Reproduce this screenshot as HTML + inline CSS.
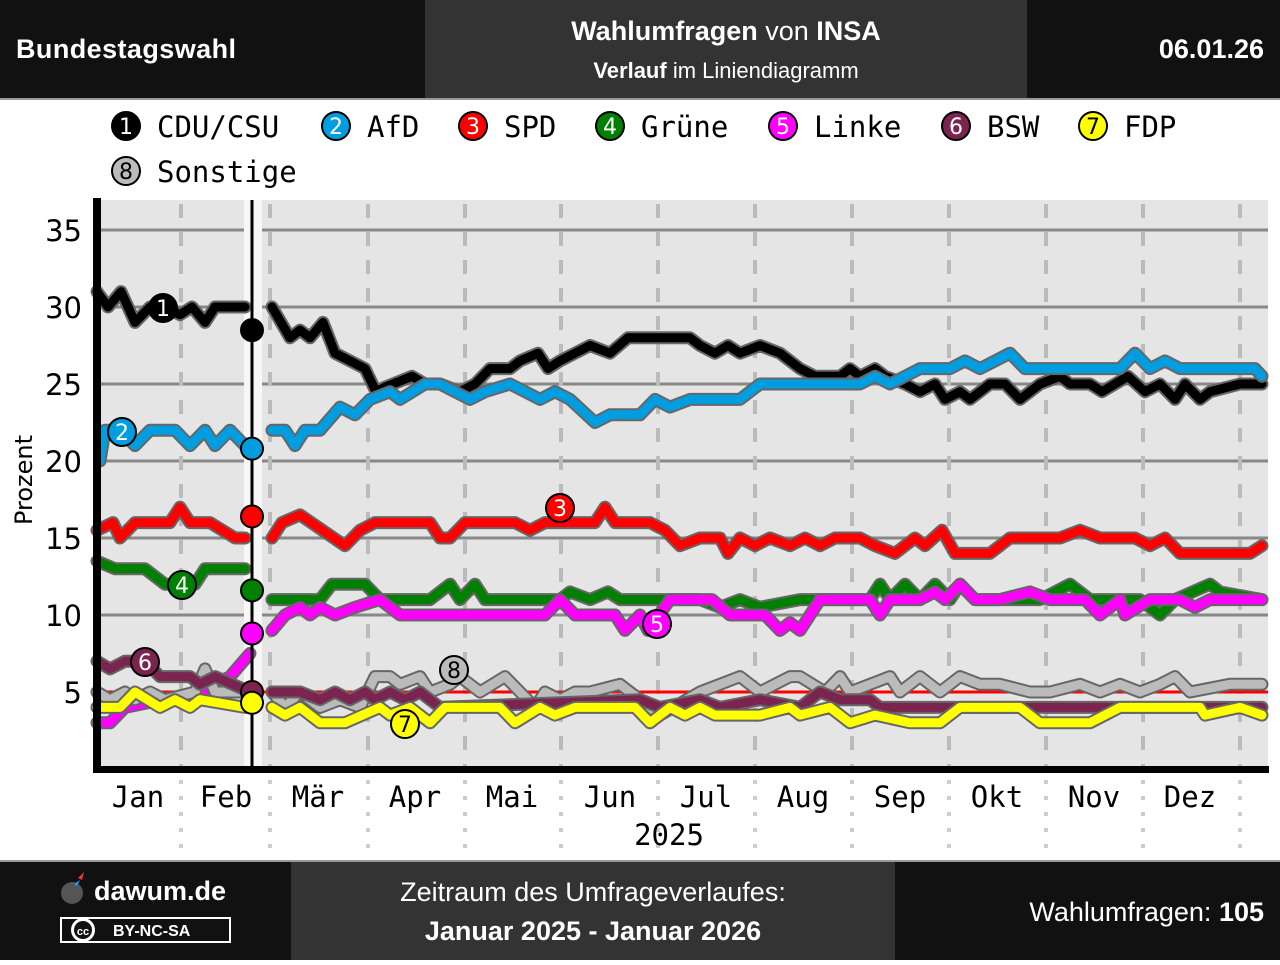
<!DOCTYPE html>
<html><head><meta charset="utf-8"><style>
body{margin:0;width:1280px;height:960px;overflow:hidden;background:#fff;font-family:"Liberation Sans",sans-serif}
</style></head><body>
<svg width="1280" height="960" xmlns="http://www.w3.org/2000/svg" id="s">
<rect x="0" y="0" width="1280" height="98" fill="#111"/>
<rect x="425" y="0" width="602" height="98" fill="#333"/>
<rect x="0" y="98" width="1280" height="2" fill="#999"/>
<text x="16" y="58" fill="#fff" font-size="27" font-weight="bold" textLength="220">Bundestagswahl</text>
<text x="726" y="40" fill="#fff" font-size="27" text-anchor="middle"><tspan font-weight="bold">Wahlumfragen</tspan> von <tspan font-weight="bold">INSA</tspan></text>
<text x="726" y="78" fill="#fff" font-size="22" text-anchor="middle"><tspan font-weight="bold">Verlauf</tspan> im Liniendiagramm</text>
<text x="1264" y="58" fill="#fff" font-size="27" font-weight="bold" text-anchor="end">06.01.26</text>
<rect x="0" y="860" width="1280" height="2" fill="#999"/>
<rect x="0" y="862" width="1280" height="98" fill="#111"/>
<rect x="291" y="862" width="604" height="98" fill="#333"/>
<circle cx="72" cy="893" r="11" fill="#555"/>
<path d="M78 878 l6 -6 l-2 8 z" fill="#e33"/><path d="M74 884 l6 -4 l-3 6z" fill="#29f"/>
<text x="94" y="900" fill="#fff" font-size="27" font-weight="bold">dawum.de</text>
<rect x="60" y="917" width="171" height="26" fill="#fff"/><rect x="62" y="919" width="167" height="22" fill="#111"/>
<circle cx="83" cy="930" r="12" fill="#fff"/><circle cx="83" cy="930" r="9" fill="#111"/>
<text x="83" y="935" fill="#fff" font-size="11" font-weight="bold" text-anchor="middle">cc</text>
<text x="113" y="936" fill="#fff" font-size="16" font-weight="bold">BY-NC-SA</text>
<text x="593" y="901" fill="#fff" font-size="27" text-anchor="middle">Zeitraum des Umfrageverlaufes:</text>
<text x="593" y="940" fill="#fff" font-size="27" font-weight="bold" text-anchor="middle">Januar 2025 - Januar 2026</text>
<text x="1264" y="921" fill="#fff" font-size="27" text-anchor="end">Wahlumfragen: <tspan font-weight="bold">105</tspan></text>
<rect x="97" y="200" width="1171" height="570" fill="#e5e5e5"/>
<g id="grid"></g>
<rect x="244" y="200" width="18" height="570" fill="#f7f7f7"/>
<line x1="97" y1="692" x2="1268" y2="692" stroke="#f00" stroke-width="3"/>
<g id="ser"></g>
<line x1="252" y1="200" x2="252" y2="770" stroke="#000" stroke-width="3"/>
<g id="mk"></g>
<rect x="93" y="198" width="8" height="575" fill="#000"/>
<rect x="93" y="766" width="1176" height="7" fill="#000"/>
<g id="lab" font-family="'DejaVu Sans Mono',monospace" font-size="29"></g>
<text transform="translate(32,480) rotate(-90)" font-family="'DejaVu Sans',sans-serif" font-size="24" text-anchor="middle">Prozent</text>
</svg>
<script>
const NS="http://www.w3.org/2000/svg";
function el(p,t,a,txt){const e=document.createElementNS(NS,t);for(const k in a)e.setAttribute(k,a[k]);if(txt!==undefined)e.textContent=txt;document.getElementById(p).appendChild(e);return e;}
const Y=v=>230+(35-v)*15.4;
[35,30,25,20,15,10,5].forEach(v=>{el('grid','line',{x1:97,x2:1268,y1:Y(v),y2:Y(v),stroke:'#888','stroke-width':3});
el('lab','text',{x:82,y:Y(v)+11,'text-anchor':'end','font-family':"'DejaVu Sans',sans-serif"},v);});
[181,270,368,465,561,658,755,852,949,1046,1143,1240].forEach(x=>{el('grid','line',{x1:x,x2:x,y1:200,y2:770,stroke:'#bbb','stroke-width':4,'stroke-dasharray':'14 14','stroke-dashoffset':-4});
el('lab','line',{x1:x,x2:x,y1:780,y2:850,stroke:'#ccc','stroke-width':4,'stroke-dasharray':'4 12'});});
[["Jan",138],["Feb",226],["Mär",318],["Apr",415],["Mai",512],["Jun",610],["Jul",706],["Aug",803],["Sep",900],["Okt",997],["Nov",1094],["Dez",1190]].forEach(([t,x])=>el('lab','text',{x:x,y:807,'text-anchor':'middle'},t));
el('lab','text',{x:669,y:845,'text-anchor':'middle'},'2025');
const S={
cdu:['#000',[[97,31],[108,30],[121,31],[135,29],[150,30],[165,30],[180,29.5],[192,30],[205,29],[215,30],[245,30]],[[272,30],[290,28],[300,28.5],[310,28],[323,29],[335,27],[350,26.5],[365,26],[376,24.5],[385,24.8],[412,25.5],[425,25],[440,25],[460,24.5],[475,25],[490,26],[510,26],[520,26.5],[538,27],[548,26],[560,26.5],[590,27.5],[610,27],[628,28],[690,28],[700,27.5],[715,27],[728,27.5],[740,27],[760,27.5],[780,27],[800,26],[815,25.5],[840,25.5],[850,26],[860,25.5],[875,26],[885,25.5],[905,25],[920,24.5],[935,25],[945,24],[960,24.5],[970,24],[990,25],[1005,25],[1020,24],[1040,25],[1060,25.5],[1070,25],[1090,25],[1102,24.5],[1128,25.5],[1145,24.5],[1160,25],[1175,24],[1185,25],[1200,24],[1210,24.5],[1240,25],[1262,25]]],
afd:['#009ee0',[[100,20],[105,22],[120,22],[135,21],[150,22],[175,22],[190,21],[205,22],[215,21],[230,22],[245,21]],[[272,22],[285,22],[295,21],[305,22],[320,22],[340,23.5],[355,23],[370,24],[390,24.5],[400,24],[425,25],[440,25],[455,24.5],[470,24],[485,24.5],[510,25],[540,24],[555,24.5],[570,24],[595,22.5],[610,23],[640,23],[655,24],[670,23.5],[690,24],[740,24],[760,25],[860,25],[875,25.5],[890,25],[920,26],[950,26],[965,26.5],[980,26],[1010,27],[1025,26],[1070,26],[1120,26],[1135,27],[1150,26],[1165,26.5],[1180,26],[1255,26],[1262,25.5]]],
spd:['#f00',[[97,15.5],[113,16],[120,15],[135,16],[170,16],[180,17],[190,16],[210,16],[235,15],[245,15]],[[272,15],[282,16],[300,16.5],[345,14.5],[360,15.5],[375,16],[430,16],[440,15],[450,15],[465,16],[515,16],[530,15.5],[545,16],[595,16],[605,17],[615,16],[650,16],[665,15.5],[680,14.5],[700,15],[720,15],[728,14],[740,15],[755,14.5],[770,15],[790,14.5],[805,15],[820,14.5],[835,15],[860,15],[875,14.5],[895,14],[915,15],[925,14.5],[942,15.5],[955,14],[990,14],[1010,15],[1060,15],[1080,15.5],[1100,15],[1135,15],[1150,14.5],[1165,15],[1180,14],[1250,14],[1262,14.5]]],
gru:['#008000',[[97,13.5],[115,13],[145,13],[165,12],[195,12],[205,13],[245,13]],[[272,11],[320,11],[332,12],[365,12],[380,11],[430,11],[450,12],[460,11],[475,12],[485,11],[560,11],[570,11.5],[590,11],[608,11.5],[620,11],[700,11],[720,10.5],[740,11],[760,10.5],[800,11],[870,11],[880,12],[890,11],[905,12],[920,11],[935,12],[950,11],[960,12],[975,11],[1040,11],[1070,12],[1090,11],[1140,11],[1160,10],[1175,11],[1210,12],[1220,11.5],[1262,11]]],
lin:['#f0f',[[97,3],[110,3],[125,4],[200,5],[230,6],[250,7.5]],[[272,9],[285,10],[300,10.5],[310,10],[320,10.5],[335,10],[355,10.5],[380,11],[400,10],[545,10],[560,11],[575,10],[615,10],[625,9],[640,10],[648,9],[670,11],[712,11],[730,10],[765,10],[780,9],[790,9.5],[800,9],[820,11],[870,11],[880,10],[890,11],[920,11],[935,11.5],[945,11],[960,12],[975,11],[1000,11],[1030,11.5],[1050,11],[1085,11],[1100,10],[1120,11],[1125,10],[1150,11],[1180,11],[1195,10.5],[1210,11],[1262,11]]],
son:['#bbb',[[97,5],[110,4.5],[125,5],[135,4.5],[150,5],[165,4.5],[195,5],[205,6.5],[215,5],[245,5]],[[272,5],[285,4],[300,5],[320,4],[340,4.5],[360,4],[375,6],[390,6],[400,5.5],[420,6],[430,5],[450,5.5],[460,6],[480,5],[505,6],[520,5],[535,4],[545,5],[560,4.5],[575,5],[590,5],[620,5.5],[640,4.5],[660,3.5],[700,5],[740,6],[760,5],[790,6],[800,6],[825,5],[840,6],[850,5],[870,5.5],[890,6],[900,5],[920,6],[940,5],[960,6],[980,5.5],[1000,5.5],[1030,5],[1050,5],[1080,5.5],[1100,5],[1120,5.5],[1140,5],[1160,5.5],[1175,6],[1190,5],[1230,5.5],[1262,5.5]]],
bsw:['#7b2450',[[97,7],[110,6.5],[125,7],[145,7],[160,6],[190,6],[200,5.5],[215,6],[250,5]],[[272,5],[300,5],[320,4.5],[335,5],[350,4.5],[365,5],[375,4.5],[390,5],[405,4.5],[420,5],[440,4],[640,4.5],[660,4],[700,4.5],[720,4],[760,4.5],[800,4],[820,5],[840,4.5],[870,4.5],[880,4],[1262,4]]],
fdp:['#ff0',[[97,4],[120,4],[135,5],[160,4],[175,4.5],[190,4],[200,4.5],[245,4]],[[272,4],[285,3.5],[300,4],[320,3],[345,3],[380,4],[390,3.5],[410,4],[430,3],[445,4],[500,4],[515,3],[540,4],[555,3.5],[575,4],[635,4],[650,3],[670,4],[685,3.5],[700,4],[715,3.5],[760,3.5],[790,4],[800,3.5],[830,4],[850,3],[875,3.5],[910,3],[940,3],[960,4],[1020,4],[1040,3],[1090,3],[1120,4],[1200,4],[1205,3.5],[1240,4],[1262,3.5]]]};
for(const k in S){const [c,a,b]=S[k];[a,b].forEach(pts=>{const p=pts.map(q=>q[0]+','+Y(q[1]).toFixed(1)).join(' ');
el('ser','polyline',{points:p,fill:'none',stroke:'#666','stroke-width':13,'stroke-linejoin':'round','stroke-linecap':'round'});
el('ser','polyline',{points:p,fill:'none',stroke:c,'stroke-width':9,'stroke-linejoin':'round','stroke-linecap':'round'});});}
[['#000',28.5],['#009ee0',20.8],['#f00',16.4],['#008000',11.6],['#f0f',8.8],['#7b2450',5],['#ff0',4.3]].forEach(([c,v])=>el('mk','circle',{cx:252,cy:Y(v),r:11,fill:c,stroke:'#000','stroke-width':2}));
function badge(g,x,y,c,n,tc){el(g,'circle',{cx:x,cy:y,r:14,fill:c,stroke:'#000','stroke-width':2});
el(g,'text',{x:x,y:y+8,'text-anchor':'middle',fill:tc,'font-size':22,'font-family':"'DejaVu Sans',sans-serif"},n);}
badge('mk',163,308,'#000',1,'#fff');badge('mk',122,432,'#009ee0',2,'#fff');badge('mk',560,508,'#f00',3,'#fff');
badge('mk',182,585,'#008000',4,'#fff');badge('mk',657,624,'#f0f',5,'#fff');badge('mk',145,662,'#7b2450',6,'#fff');
badge('mk',405,724,'#ff0',7,'#000');badge('mk',454,670,'#bbb',8,'#000');
const L=[['#000','1','CDU/CSU',126,126,'#fff'],['#009ee0','2','AfD',336,126,'#fff'],['#f00','3','SPD',473,126,'#fff'],['#008000','4','Grüne',610,126,'#fff'],['#f0f','5','Linke',783,126,'#fff'],['#7b2450','6','BSW',956,126,'#fff'],['#ff0','7','FDP',1093,126,'#000'],['#bbb','8','Sonstige',126,171,'#000']];
L.forEach(([c,n,t,x,y,tc])=>{badge('lab',x,y,c,n,tc);el('lab','text',{x:x+31,y:y+11},t);});
</script>
</body></html>
